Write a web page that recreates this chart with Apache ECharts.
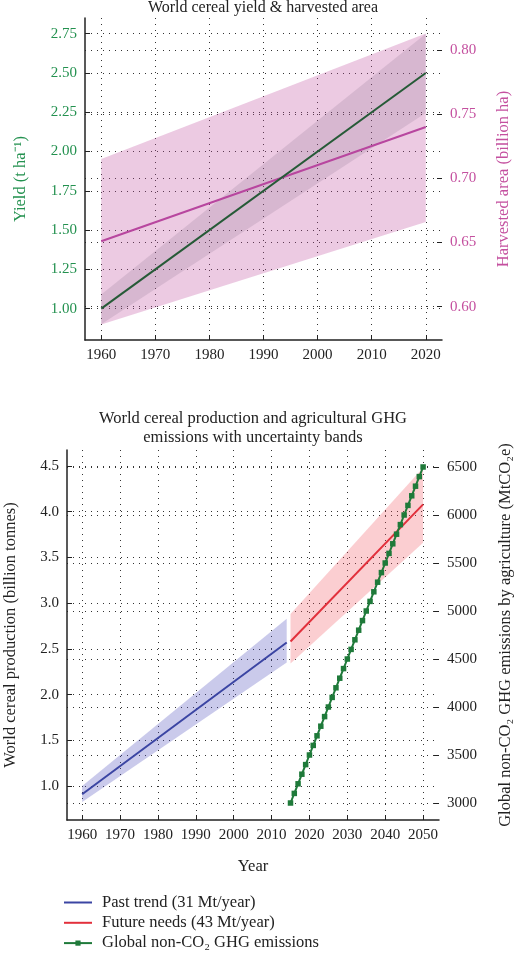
<!DOCTYPE html>
<html lang="en">

<head>
    <meta charset="UTF-8">
    <title>World cereal yield and GHG</title>
    <script src="https://cdn.jsdelivr.net/npm/echarts@6/dist/echarts.min.js"></script>
    <style>
        body { margin: 0; background: #fff; }
        #chart { width: 516px; height: 954px; }
    </style>
</head>

<body onload="setup()">
    <div id="chart"></div>
    <script>
        // top chart: yield & harvested area
        var topYears = [1960, 2020]
        var yieldMid = [1.00, 2.50]
        var yieldLow = [0.90, 2.245]
        var yieldHigh = [1.09, 2.75]
        var areaMid = [0.651, 0.740]
        var areaLow = [0.586, 0.666]
        var areaHigh = [0.715, 0.813]
        var topXTicks = [1960, 1970, 1980, 1990, 2000, 2010, 2020]
        var yieldTicks = [1.00, 1.25, 1.50, 1.75, 2.00, 2.25, 2.50, 2.75]
        var areaTicks = [0.60, 0.65, 0.70, 0.75, 0.80]

        // bottom chart: production & GHG
        var pastYears = [1960, 2014]
        var pastMid = [0.91, 2.57]
        var pastLow = [0.825, 2.35]
        var pastHigh = [1.00, 2.83]
        var futureYears = [2015, 2050]
        var futureMid = [2.58, 4.08]
        var futureLow = [2.34, 3.66]
        var futureHigh = [2.88, 4.48]
        var ghgYears = [2015, 2016, 2017, 2018, 2019, 2020, 2021, 2022, 2023, 2024, 2025, 2026,
            2027, 2028, 2029, 2030, 2031, 2032, 2033, 2034, 2035, 2036, 2037, 2038,
            2039, 2040, 2041, 2042, 2043, 2044, 2045, 2046, 2047, 2048, 2049, 2050]
        var ghgValues = [3000, 3100, 3200, 3300, 3400, 3500, 3600, 3700, 3800, 3900, 4000, 4100,
            4200, 4300, 4400, 4500, 4600, 4700, 4800, 4900, 5000, 5100, 5200, 5300,
            5400, 5500, 5600, 5700, 5800, 5900, 6000, 6100, 6200, 6300, 6400, 6500]
        var bottomXTicks = [1960, 1970, 1980, 1990, 2000, 2010, 2020, 2030, 2040, 2050]
        var prodTicks = [1.0, 1.5, 2.0, 2.5, 3.0, 3.5, 4.0, 4.5]
        var ghgTicks = [3000, 3500, 4000, 4500, 5000, 5500, 6000, 6500]

        var FONT = 'Liberation Serif'
        var dotted = { show: true, lineStyle: { color: '#333', type: [1, 5], width: 1 } }

        function pairs(xs, ys) {
            return xs.map(function (x, i) { return [x, ys[i]] })
        }

        // uncertainty band as one polygon, coords from the axes
        function band(xs, lo, hi, xi, yi, color) {
            return {
                type: 'custom', xAxisIndex: xi, yAxisIndex: yi, silent: true, z: 1,
                data: xs.map(function (x, i) { return [x, lo[i], hi[i]] }),
                encode: { x: 0, y: [1, 2] },
                renderItem: function (params, api) {
                    if (params.dataIndex !== 0) return
                    var pts = []
                    for (var i = 0; i < xs.length; i++) pts.push(api.coord([xs[i], hi[i]]))
                    for (var j = xs.length - 1; j >= 0; j--) pts.push(api.coord([xs[j], lo[j]]))
                    return { type: 'polygon', shape: { points: pts }, style: { fill: color } }
                }
            }
        }

        function valAxis(o) {
            var base = {
                type: 'value',
                axisLine: { show: true, lineStyle: { color: '#222', width: 1.5 } },
                axisTick: { show: true, inside: true, length: 5, lineStyle: { color: '#222' }, customValues: o.ticks },
                axisLabel: {
                    customValues: o.ticks, color: o.color || '#222', fontFamily: FONT, fontSize: 15, margin: 8,
                    formatter: function (v) { return o.dec != null ? v.toFixed(o.dec) : String(v) }
                },
                splitLine: dotted,
                nameTextStyle: { fontFamily: FONT, fontSize: 16.5, color: o.color || '#222' }
            }
            return Object.assign(base, o.extra)
        }

        function setup() {
            var chart = echarts.init(document.getElementById('chart'))
            var series = []
            series.push(band(topYears, areaLow, areaHigh, 0, 1, 'rgba(192,80,160,0.3)'))
            series.push(band(topYears, yieldLow, yieldHigh, 0, 0, 'rgba(120,100,130,0.18)'))
            series.push({
                name: 'Harvested area', type: 'line', xAxisIndex: 0, yAxisIndex: 1, z: 3,
                data: pairs(topYears, areaMid), symbol: 'none',
                lineStyle: { color: '#b8469f', width: 2 }
            })
            series.push({
                name: 'Yield', type: 'line', xAxisIndex: 0, yAxisIndex: 0, z: 4,
                data: pairs(topYears, yieldMid), symbol: 'none',
                lineStyle: { color: '#265a37', width: 2 }
            })
            series.push(band(pastYears, pastLow, pastHigh, 1, 2, 'rgba(80,80,190,0.3)'))
            series.push(band(futureYears, futureLow, futureHigh, 1, 2, 'rgba(240,80,90,0.28)'))
            series.push({
                name: 'Past trend (31 Mt/year)', type: 'line', xAxisIndex: 1, yAxisIndex: 2, z: 3,
                data: pairs(pastYears, pastMid), symbol: 'none', itemStyle: { color: '#3b45a3' },
                lineStyle: { color: '#3b45a3', width: 2 }
            })
            series.push({
                name: 'Future needs (43 Mt/year)', type: 'line', xAxisIndex: 1, yAxisIndex: 2, z: 3,
                data: pairs(futureYears, futureMid), symbol: 'none', itemStyle: { color: '#e2303c' },
                lineStyle: { color: '#e2303c', width: 2 }
            })
            series.push({
                name: 'Global non-CO₂ GHG emissions', type: 'line', xAxisIndex: 1, yAxisIndex: 3, z: 4,
                data: pairs(ghgYears, ghgValues), symbol: 'rect', symbolSize: 5.5, showAllSymbol: true,
                itemStyle: { color: '#1f7a3a' }, lineStyle: { color: '#1f7a3a', width: 2 }
            })

            var option = {
                animation: false,
                title: [{
                    text: 'World cereal yield & harvested area', left: 263, top: 0, textAlign: 'center', padding: 0,
                    textStyle: { fontFamily: FONT, fontSize: 16, fontWeight: 'normal', color: '#222' }
                }, {
                    text: 'World cereal production and agricultural GHG\nemissions with uncertainty bands',
                    left: 253, top: 409, textAlign: 'center', padding: 0,
                    textStyle: { fontFamily: FONT, fontSize: 16.5, fontWeight: 'normal', color: '#222', lineHeight: 19 }
                }],
                legend: {
                    data: [
                        { name: 'Past trend (31 Mt/year)', itemStyle: { opacity: 0 } },
                        { name: 'Future needs (43 Mt/year)', itemStyle: { opacity: 0 } },
                        { name: 'Global non-CO₂ GHG emissions' }
                    ],
                    orient: 'vertical', left: 63, top: 894, height: 90, padding: 0,
                    itemWidth: 28, itemHeight: 6.5, itemGap: 3.3,
                    textStyle: { fontFamily: FONT, fontSize: 16.5, color: '#222', lineHeight: 14, padding: [0, 0, 0, 5] }
                },
                grid: [
                    { left: 85, top: 18, width: 357, height: 322, outerBoundsMode: 'none' },
                    { left: 67, top: 450, width: 372, height: 370, outerBoundsMode: 'none' }
                ],
                xAxis: [
                    valAxis({ ticks: topXTicks, extra: { gridIndex: 0, min: 1957, max: 2023 } }),
                    valAxis({
                        ticks: bottomXTicks, extra: {
                            gridIndex: 1, min: 1956, max: 2054.2, name: 'Year',
                            nameLocation: 'middle', nameGap: 38
                        }
                    })
                ],
                yAxis: [
                    valAxis({
                        ticks: yieldTicks, dec: 2, color: '#23914f', extra: {
                            gridIndex: 0, position: 'left', min: 0.80, max: 2.85,
                            name: 'Yield (t ha⁻¹)', nameLocation: 'middle', nameGap: 56, nameRotate: 90
                        }
                    }),
                    valAxis({
                        ticks: areaTicks, dec: 2, color: '#c4509f', extra: {
                            gridIndex: 0, position: 'right', min: 0.574, max: 0.825,
                            axisLine: { show: false },
                            name: 'Harvested area (billion ha)', nameLocation: 'middle', nameGap: 53, nameRotate: 90
                        }
                    }),
                    valAxis({
                        ticks: prodTicks, dec: 1, extra: {
                            gridIndex: 1, position: 'left', min: 0.628, max: 4.675,
                            name: 'World cereal production (billion tonnes)', nameLocation: 'middle', nameGap: 48, nameRotate: 90
                        }
                    }),
                    valAxis({
                        ticks: ghgTicks, extra: {
                            gridIndex: 1, position: 'right', min: 2823, max: 6677,
                            axisLine: { show: false },
                            name: 'Global non-CO₂ GHG emissions by agriculture (MtCO₂e)', nameLocation: 'middle', nameGap: 58, nameRotate: 90
                        }
                    })
                ],
                series: series
            }
            chart.setOption(option)
        }
    </script>
</body>

</html>
